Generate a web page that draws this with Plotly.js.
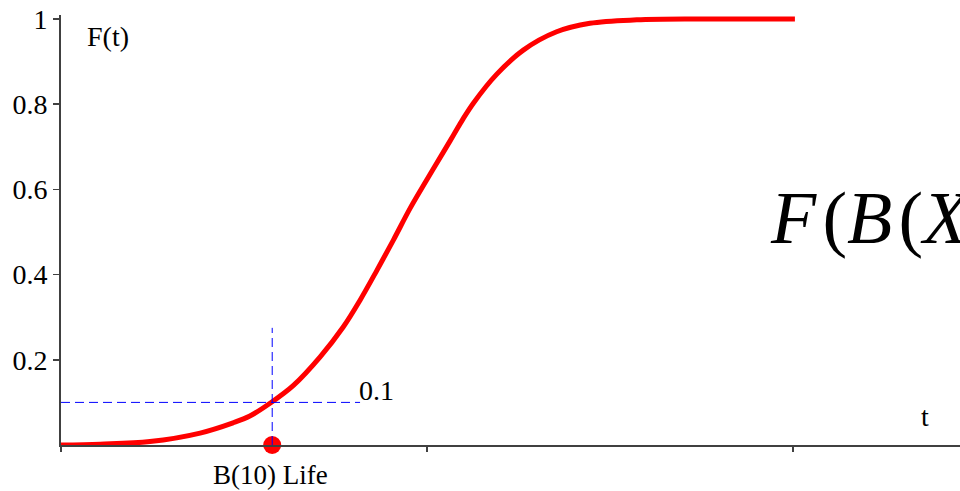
<!DOCTYPE html>
<html>
<head>
<meta charset="utf-8">
<script src="https://cdn.plot.ly/plotly-3.0.1.min.js"></script>
<style>html,body{margin:0;padding:0;background:#fff;overflow:hidden}#chart{width:960px;height:491px}</style>
</head>
<body>
<div id="chart"></div>
<script>
// CDF curve F(t)
const tValues = [0, 0.107, 0.243, 0.380, 0.470, 0.516, 0.571, 0.635, 0.708, 0.771, 0.817, 0.863, 0.908, 0.954, 0.999, 1.045, 1.072, 1.098, 1.127, 1.190, 1.263, 1.354, 1.445, 1.573, 1.746, 2.005];
const fValues = [0, 0.002, 0.008, 0.028, 0.052, 0.068, 0.098, 0.140, 0.207, 0.277, 0.340, 0.410, 0.481, 0.556, 0.622, 0.688, 0.727, 0.765, 0.803, 0.870, 0.927, 0.970, 0.990, 0.998, 1.0, 1.0];
const yTickVals = [0.2, 0.4, 0.6, 0.8, 1];
const yTickText = ["0.2", "0.4", "0.6", "0.8", "1"];
const xTickVals = [0, 1, 2];
const b10Life = 0.577;
const b10Level = 0.1;
const guideTop = 0.275;
const guideRight = 0.817;

const serif = "Times New Roman, Liberation Serif, DejaVu Serif";

const traces = [
  {x: tValues, y: fValues, type: "scatter", mode: "lines",
   line: {color: "#ff0000", width: 5, shape: "spline", smoothing: 1},
   hoverinfo: "skip", cliponaxis: false},
  {x: [b10Life], y: [0], type: "scatter", mode: "markers",
   marker: {color: "#ff0000", size: 18}, cliponaxis: false, hoverinfo: "skip"}
];

const layout = {
  width: 960, height: 491,
  margin: {l: 61, r: 0, t: 15, b: 46},
  paper_bgcolor: "#fff", plot_bgcolor: "#fff",
  showlegend: false,
  font: {family: serif, color: "#000", size: 28},
  xaxis: {range: [0, 2.456], showgrid: false, zeroline: false, showline: true,
          linecolor: "#404040", linewidth: 2, ticks: "outside", ticklen: 5, tickwidth: 2,
          tickcolor: "#404040", tickvals: xTickVals, showticklabels: false, fixedrange: true},
  yaxis: {range: [0, 1.0094], showgrid: false, zeroline: false, showline: true,
          linecolor: "#404040", linewidth: 2, ticks: "outside", ticklen: 6, tickwidth: 1.5,
          tickcolor: "#404040", tickvals: yTickVals, ticktext: yTickText,
          tickfont: {family: serif, size: 28, color: "#000"}, fixedrange: true},
  shapes: [
    {type: "line", xref: "x", yref: "y", x0: b10Life, x1: b10Life, y0: 0, y1: guideTop,
     line: {color: "#0000ff", width: 1, dash: "9px,5px"}},
    {type: "line", xref: "x", yref: "y", x0: 0, x1: guideRight, y0: b10Level, y1: b10Level,
     line: {color: "#0000ff", width: 1, dash: "9px,5px"}}
  ],
  annotations: [
    {text: "F(t)", xref: "paper", yref: "paper", x: 24/899, y: 1 - (36-15)/430,
     xanchor: "left", yanchor: "middle", showarrow: false, font: {family: serif, size: 28}},
    {text: "t", xref: "x", yref: "y", x: (925-61)/366, y: (445-416)/426,
     xanchor: "center", yanchor: "middle", showarrow: false, font: {family: serif, size: 28}},
    {text: "0.1", xref: "x", yref: "y", x: (357-61)/366, y: (445-390)/426,
     xanchor: "left", yanchor: "middle", showarrow: false, font: {family: serif, size: 28}},
    {text: "B(10) Life", xref: "x", yref: "paper", x: (270-61)/366, y: -(475-445)/430,
     xanchor: "center", yanchor: "middle", showarrow: false, font: {family: serif, size: 27}},
    {text: "<i>F</i>\u200a(<i>B</i>\u200a(<i>X</i>)) = 0.1", xref: "paper", yref: "paper", x: (768-61)/899, y: 1 - (218-15)/430,
     xanchor: "left", yanchor: "middle", showarrow: false, font: {family: serif, size: 74}}
  ]
};

Plotly.newPlot("chart", traces, layout, {staticPlot: true, displayModeBar: false});
</script>
</body>
</html>
